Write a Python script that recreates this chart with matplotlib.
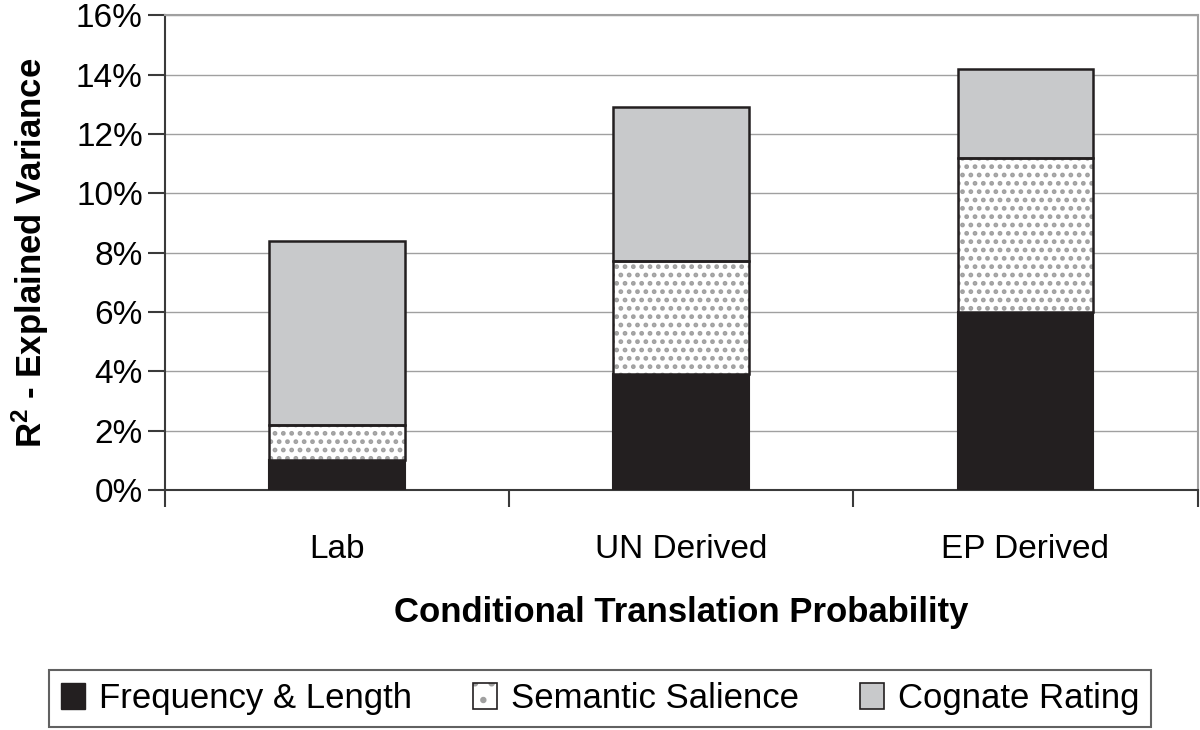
import matplotlib
matplotlib.use("Agg")
import matplotlib.pyplot as plt
from matplotlib.patches import Patch
from matplotlib.ticker import FuncFormatter, FixedLocator
import numpy as np

plt.rcParams['font.family'] = ['Liberation Sans', 'DejaVu Sans']
plt.rcParams['mathtext.fontset'] = 'custom'
plt.rcParams['mathtext.rm'] = 'Liberation Sans'
plt.rcParams['mathtext.bf'] = 'Liberation Sans:bold'
plt.rcParams['hatch.linewidth'] = 2.2

categories = ["Lab", "UN Derived", "EP Derived"]
series_names = ["Frequency & Length", "Semantic Salience", "Cognate Rating"]
freq_length = [1.0, 3.9, 6.0]
semantic = [1.2, 3.8, 5.2]
cognate = [6.2, 5.2, 3.0]

black = "#231f20"
grey = "#c8c9cb"
dotcol = "#a0a0a0"

fig = plt.figure(figsize=(12, 7.3), dpi=100)
ax = fig.add_axes([0.1375, 0.329, 0.8605, 0.65])

x = np.arange(len(categories))
w = 0.395

b1 = np.array(freq_length)
b2 = b1 + np.array(semantic)

# frequency & length
ax.bar(x, freq_length, w, color=black, edgecolor=black, linewidth=1.5, zorder=3)
# semantic salience: dotted fill, then black outline on top
ax.bar(x, semantic, w, bottom=b1, color="white", edgecolor=dotcol, hatch="..",
       linewidth=0, zorder=3)
ax.bar(x, semantic, w, bottom=b1, color="none", edgecolor=black, linewidth=1.8, zorder=4)
# cognate rating
ax.bar(x, cognate, w, bottom=b2, color=grey, edgecolor=black, linewidth=1.8, zorder=3)

ax.set_xlim(-0.5, len(categories) - 0.5)
ax.set_ylim(0, 16)
ax.set_yticks(np.arange(0, 17, 2))
ax.yaxis.set_major_formatter(FuncFormatter(lambda v, p: "%d%%" % v))
ax.grid(axis="y", color="#a0a0a0", linewidth=1.0, zorder=0)

ax.set_xticks(x)
ax.set_xticklabels(categories)
ax.xaxis.set_minor_locator(FixedLocator(np.arange(-0.5, len(categories), 1.0)))
ax.tick_params(axis="x", which="major", length=0, pad=32, labelsize=24)
ax.tick_params(axis="x", which="minor", length=12, width=1.5, color="#3a3a3a")
ax.tick_params(axis="y", length=12, width=1.5, color="#3a3a3a", labelsize=24, pad=4)

for s in ["left", "bottom"]:
    ax.spines[s].set_color("#3a3a3a")
    ax.spines[s].set_linewidth(1.5)
for s in ["top", "right"]:
    ax.spines[s].set_color("#a0a0a0")
    ax.spines[s].set_linewidth(1.5)

ax.set_xlabel("Conditional Translation Probability", fontsize=25, fontweight="bold",
              labelpad=22)
ax.set_ylabel(r"$\mathbf{R^2}$ - Explained Variance", fontsize=25, fontweight="bold",
              labelpad=18)

h1 = Patch(facecolor=black, edgecolor=black)
h2 = (Patch(facecolor="white", edgecolor=dotcol, hatch=".", linewidth=0),
      Patch(facecolor="none", edgecolor=black, linewidth=1.2))
h3 = Patch(facecolor=grey, edgecolor=black, linewidth=1.2)
leg = fig.legend([h1, h2, h3], series_names, loc="center", bbox_to_anchor=(0.5, 0.043),
                 ncol=3, fontsize=25, frameon=True, fancybox=False, edgecolor="#3a3a3a",
                 handlelength=0.7, handleheight=0.8, handletextpad=0.4,
                 columnspacing=1.75, borderpad=0.35)
leg.get_frame().set_linewidth(1.5)

fig.savefig("out.png", dpi=100)
